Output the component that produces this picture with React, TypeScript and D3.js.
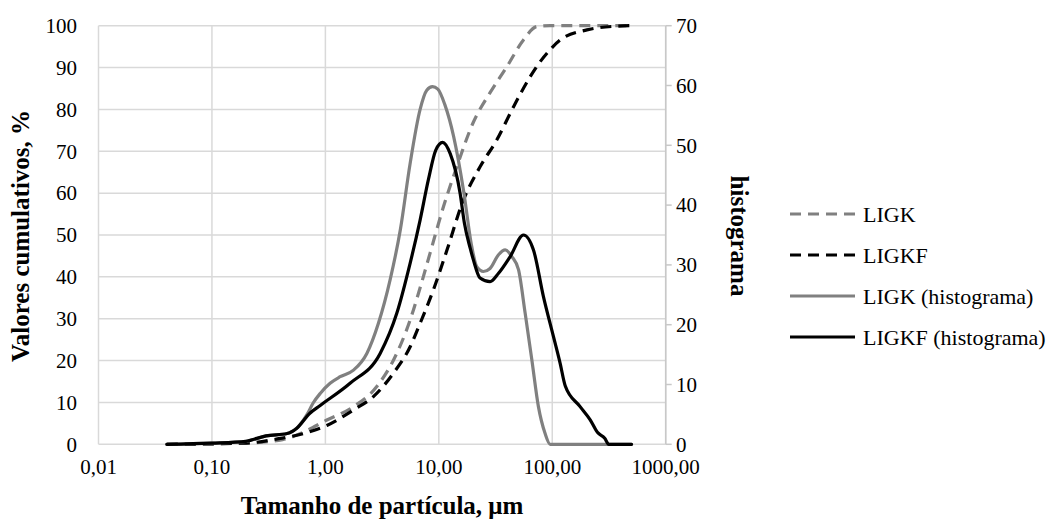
import React from "react";
import * as d3 from "d3";

// Particle size (µm) and cumulative volume (%) — left axis
const ligkCum: [number, number][] = [
  [0.04, 0], [0.2, 0.3], [0.42, 1.1], [0.64, 2.9], [1.03, 5.8], [1.7, 8.7], [2.84, 13.8],
  [3.98, 20.1], [5.59, 29.7], [6.84, 37.4], [8.4, 45.8], [11.0, 56.8], [14.4, 66.3],
  [20.2, 77.0], [28.3, 84.0], [39.8, 90.2], [55.7, 96.6], [73.1, 99.8], [95.9, 100], [486, 100],
];
const ligkfCum: [number, number][] = [
  [0.04, 0], [0.2, 0.3], [0.4, 1.4], [0.65, 2.6], [1.03, 4.5], [1.77, 8.2], [2.65, 11.4],
  [3.98, 17.0], [5.59, 23.3], [6.84, 28.9], [8.96, 36.9], [11.8, 46.4], [16.5, 58.4],
  [23.1, 66.3], [32.4, 72.7], [45.5, 80.6], [63.8, 87.8], [78.2, 91.4], [92.5, 93.8],
  [117.5, 96.6], [202, 99.0], [372, 99.9], [486, 100],
];

// Particle size (µm) and frequency histogram — right axis
const ligkHist: [number, number][] = [
  [0.04, 0], [0.1, 0.2], [0.2, 0.5], [0.3, 1.4], [0.46, 1.8], [0.56, 2.7], [0.69, 5.0],
  [0.78, 6.9], [0.9, 8.5], [1.1, 10.2], [1.35, 11.3], [1.77, 12.4], [2.32, 15.2],
  [2.93, 20.2], [3.72, 27.5], [4.58, 35.9], [5.59, 47.0], [6.84, 56.0], [7.83, 59.2],
  [8.8, 59.8], [9.8, 59.4], [11.3, 56.8], [13.5, 51.5], [16.5, 42.5], [19.5, 33.1],
  [21.6, 29.7], [24.7, 28.9], [28.3, 29.4], [33.6, 31.7], [38.5, 32.5], [44.0, 31.4],
  [50.4, 29.2], [57.7, 21.9], [66.1, 14.1], [75.5, 6.3], [86.5, 1.8], [95.9, 0], [500, 0],
];
const ligkfHist: [number, number][] = [
  [0.04, 0], [0.1, 0.2], [0.2, 0.5], [0.22, 0.7], [0.3, 1.4], [0.46, 1.8], [0.56, 2.7],
  [0.73, 5.2], [0.9, 6.5], [1.65, 10.2], [3.04, 15.2], [4.26, 21.9], [5.59, 30.3],
  [6.84, 37.5], [8.1, 44.3], [9.4, 49.2], [10.8, 50.5], [12.6, 48.6], [15.4, 42.0],
  [16.8, 37.0], [18.9, 32.8], [20.2, 30.8], [23.1, 27.8], [28.3, 27.2], [33.6, 28.6],
  [42.6, 31.4], [55.7, 35.0], [68.3, 32.5], [83.6, 24.7], [102.5, 18.0], [117.5, 13.5],
  [130, 9.8], [176, 6.3], [216, 4.1], [250, 2.0], [290, 1.0], [315, 0], [500, 0],
];

const xTicks = [0.01, 0.1, 1, 10, 100, 1000];
const xTickLabels = ["0,01", "0,10", "1,00", "10,00", "100,00", "1000,00"];
const leftTicks = [0, 10, 20, 30, 40, 50, 60, 70, 80, 90, 100];
const rightTicks = [0, 10, 20, 30, 40, 50, 60, 70];

const seriesNames = ["LIGK", "LIGKF", "LIGK (histograma)", "LIGKF (histograma)"];

const W = 1058;
const H = 521;
const left = 98.5;
const right = 665.7;
const top = 25.7;
const bottom = 444.3;

const GREY = "#808080";
const GRID = "#d9d9d9";
const FONT = "'Liberation Serif', 'Times New Roman', serif";

export default function App() {
  const x = d3.scaleLog().domain([0.01, 1000]).range([left, right]);
  const yL = d3.scaleLinear().domain([0, 100]).range([bottom, top]);
  const yR = d3.scaleLinear().domain([0, 70]).range([bottom, top]);

  const lineL = d3
    .line<[number, number]>()
    .x((d) => x(d[0]))
    .y((d) => yL(d[1]))
    .curve(d3.curveMonotoneX);
  const lineR = d3
    .line<[number, number]>()
    .x((d) => x(d[0]))
    .y((d) => yR(d[1]))
    .curve(d3.curveMonotoneX);

  const series = [
    { name: seriesNames[0], d: lineL(ligkCum), color: GREY, dash: "11 7" },
    { name: seriesNames[1], d: lineL(ligkfCum), color: "#000", dash: "11 7" },
    { name: seriesNames[2], d: lineR(ligkHist), color: GREY, dash: undefined },
    { name: seriesNames[3], d: lineR(ligkfHist), color: "#000", dash: undefined },
  ];

  const legendX0 = 790;
  const legendX1 = 855;
  const legendY0 = 214;
  const legendStep = 41;

  return (
    <svg
      width={W}
      height={H}
      style={{ position: "absolute", left: 0, top: 0, background: "#fff" }}
      fontFamily={FONT}
    >
      <rect x={0} y={0} width={W} height={H} fill="#fff" />

      {/* gridlines */}
      {leftTicks.map((t) => (
        <line key={"h" + t} x1={left} x2={right} y1={yL(t)} y2={yL(t)} stroke={GRID} strokeWidth={1.5} />
      ))}
      {xTicks.map((t) => (
        <line key={"v" + t} x1={x(t)} x2={x(t)} y1={top} y2={bottom} stroke={GRID} strokeWidth={1.5} />
      ))}

      {/* secondary axis line with outward ticks */}
      <line x1={right} x2={right} y1={top} y2={bottom} stroke="#c8c8c8" strokeWidth={1.5} />
      {rightTicks.map((t) => (
        <line key={"rt" + t} x1={right} x2={right + 6} y1={yR(t)} y2={yR(t)} stroke="#c8c8c8" strokeWidth={1.5} />
      ))}

      {/* series */}
      {series.map((s) => (
        <path
          key={s.name}
          d={s.d || ""}
          fill="none"
          stroke={s.color}
          strokeWidth={3.2}
          strokeDasharray={s.dash}
          strokeLinejoin="round"
          strokeLinecap={s.dash ? "butt" : "round"}
        />
      ))}

      {/* tick labels */}
      {leftTicks.map((t) => (
        <text key={"lt" + t} x={77} y={yL(t)} dy="0.35em" textAnchor="end" fontSize={21}>
          {t}
        </text>
      ))}
      {rightTicks.map((t) => (
        <text key={"rl" + t} x={676} y={yR(t)} dy="0.35em" textAnchor="start" fontSize={21}>
          {t}
        </text>
      ))}
      {xTicks.map((t, i) => (
        <text key={"xt" + t} x={x(t)} y={467} dy="0.35em" textAnchor="middle" fontSize={21}>
          {xTickLabels[i]}
        </text>
      ))}

      {/* axis titles */}
      <text x={382} y={505} dy="0.35em" textAnchor="middle" fontSize={25} fontWeight="bold">
        Tamanho de partícula, μm
      </text>
      <text
        transform={`translate(20,236) rotate(-90)`}
        dy="0.35em"
        textAnchor="middle"
        fontSize={25}
        fontWeight="bold"
      >
        Valores cumulativos, %
      </text>
      <text
        transform={`translate(740,236) rotate(90)`}
        dy="0.35em"
        textAnchor="middle"
        fontSize={25}
        fontWeight="bold"
      >
        histograma
      </text>

      {/* legend */}
      {series.map((s, i) => (
        <g key={"lg" + s.name}>
          <line
            x1={legendX0}
            x2={legendX1}
            y1={legendY0 + i * legendStep}
            y2={legendY0 + i * legendStep}
            stroke={s.color}
            strokeWidth={3.2}
            strokeDasharray={s.dash ? "11 7" : undefined}
          />
          <text x={legendX1 + 8} y={legendY0 + i * legendStep} dy="0.35em" fontSize={22}>
            {s.name}
          </text>
        </g>
      ))}
    </svg>
  );
}
